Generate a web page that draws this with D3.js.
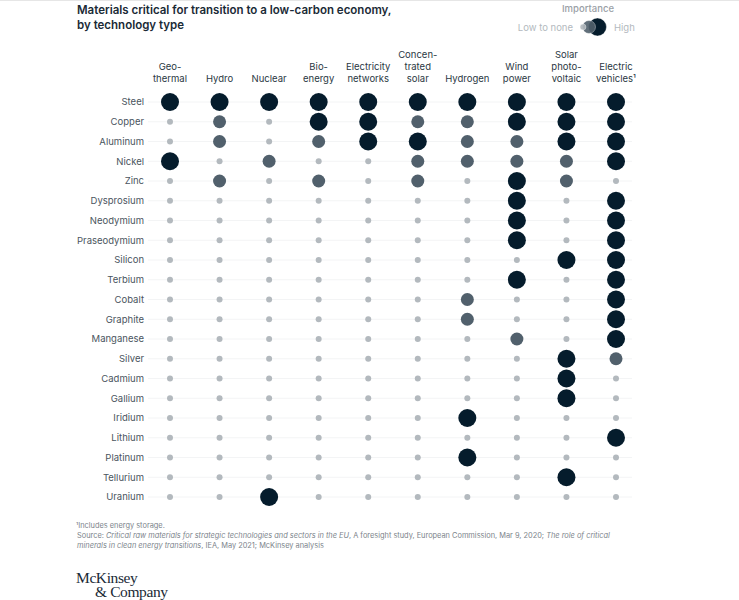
<!DOCTYPE html>
<html>
<head>
<meta charset="utf-8">
<script src="https://cdn.jsdelivr.net/npm/d3@7"></script>
<style>
  html, body { margin: 0; padding: 0; background: #fff; }
  text { font-family: Inter, "Open Sans", sans-serif; }
</style>
</head>
<body>
<div id="chart"></div>
<script>
const technologies = ["Geothermal", "Hydro", "Nuclear", "Bioenergy", "Electricity networks", "Concentrated solar", "Hydrogen", "Wind power", "Solar photovoltaic", "Electric vehicles"];
// header lines as they wrap in the original
const techLabels = [
  ["Geo-", "thermal"], ["Hydro"], ["Nuclear"], ["Bio-", "energy"], ["Electricity", "networks"],
  ["Concen-", "trated", "solar"], ["Hydrogen"], ["Wind", "power"], ["Solar", "photo-", "voltaic"], ["Electric", "vehicles\u00b9"]
];
const materials = ["Steel", "Copper", "Aluminum", "Nickel", "Zinc", "Dysprosium", "Neodymium", "Praseodymium", "Silicon", "Terbium", "Cobalt", "Graphite", "Manganese", "Silver", "Cadmium", "Gallium", "Iridium", "Lithium", "Platinum", "Tellurium", "Uranium"];
// 0 low to none, 1 medium, 2 high; one row per material, one column per technology
const importance = [
  [2, 2, 2, 2, 2, 2, 2, 2, 2, 2],
  [0, 1, 0, 2, 2, 1, 1, 2, 2, 2],
  [0, 1, 0, 1, 2, 2, 1, 1, 2, 2],
  [2, 0, 1, 0, 0, 1, 1, 1, 1, 2],
  [0, 1, 0, 1, 0, 1, 0, 2, 1, 0],
  [0, 0, 0, 0, 0, 0, 0, 2, 0, 2],
  [0, 0, 0, 0, 0, 0, 0, 2, 0, 2],
  [0, 0, 0, 0, 0, 0, 0, 2, 0, 2],
  [0, 0, 0, 0, 0, 0, 0, 0, 2, 2],
  [0, 0, 0, 0, 0, 0, 0, 2, 0, 2],
  [0, 0, 0, 0, 0, 0, 1, 0, 0, 2],
  [0, 0, 0, 0, 0, 0, 1, 0, 0, 2],
  [0, 0, 0, 0, 0, 0, 0, 1, 0, 2],
  [0, 0, 0, 0, 0, 0, 0, 0, 2, 1],
  [0, 0, 0, 0, 0, 0, 0, 0, 2, 0],
  [0, 0, 0, 0, 0, 0, 0, 0, 2, 0],
  [0, 0, 0, 0, 0, 0, 2, 0, 0, 0],
  [0, 0, 0, 0, 0, 0, 0, 0, 0, 2],
  [0, 0, 0, 0, 0, 0, 2, 0, 0, 0],
  [0, 0, 0, 0, 0, 0, 0, 0, 2, 0],
  [0, 0, 2, 0, 0, 0, 0, 0, 0, 0]
];
const levels = [0, 1, 2];

const width = 739, height = 600;
const x = d3.scalePoint().domain(technologies).range([170, 616]);
const y = d3.scalePoint().domain(materials).range([102, 497]);
const radius = d3.scaleOrdinal().domain(levels).range([3, 6.5, 9]);
const color = d3.scaleOrdinal().domain(levels).range(["#b3b9be", "#51606c", "#051c2c"]);

const svg = d3.select("#chart").append("svg")
  .attr("width", width).attr("height", height)
  .style("display", "block");

// faint rule along the top edge
svg.append("line").attr("x1", 0).attr("x2", width).attr("y1", 0.5).attr("y2", 0.5)
  .attr("stroke", "#e6e6e6");

// title
svg.append("text").attr("x", 77).attr("y", 14)
  .attr("font-size", 11.5).attr("font-weight", 600).attr("fill", "#1a2a36")
  .selectAll("tspan")
  .data(["Materials critical for transition to a low-carbon economy,", "by technology type"])
  .join("tspan").attr("x", 77).attr("dy", (d, i) => i ? 14.5 : 0).text(d => d);

// legend
const legend = svg.append("g");
legend.append("text").attr("x", 588).attr("y", 11.5).attr("text-anchor", "middle")
  .attr("font-size", 9.5).attr("font-weight", 500).attr("fill", "#9aa0a6").text("Importance");
legend.append("text").attr("x", 573).attr("y", 30.5).attr("text-anchor", "end")
  .attr("font-size", 9.5).attr("fill", "#b3b9be").text("Low to none");
legend.append("text").attr("x", 614).attr("y", 30.5)
  .attr("font-size", 9.5).attr("fill", "#b3b9be").text("High");
legend.selectAll("circle").data([2, 1, 0]).join("circle")
  .attr("cx", d => [583, 589, 597.5][d])
  .attr("cy", 27)
  .attr("r", d => radius(d))
  .attr("fill", d => color(d))
  .attr("stroke", "#fff").attr("stroke-width", 0.4)
  .attr("opacity", d => d === 2 ? 1 : 0.9)
  .sort((a, b) => b - a);

// column headers, bottom aligned
svg.append("g").selectAll("text").data(technologies).join("text")
  .attr("text-anchor", "middle").attr("font-size", 9.5).attr("fill", "#2a3843")
  .each(function(d, i) {
    const lines = techLabels[i];
    d3.select(this).selectAll("tspan").data(lines).join("tspan")
      .attr("x", x(d))
      .attr("y", (l, j) => 82 - (lines.length - 1 - j) * 12)
      .text(l => l);
  });

// rows
const rows = svg.append("g").selectAll("g").data(materials).join("g")
  .attr("transform", d => `translate(0,${y(d)})`);

rows.append("line")
  .attr("x1", 148).attr("x2", 632)
  .attr("stroke", "#f3f4f5").attr("stroke-width", 1);

rows.append("text")
  .attr("x", 144).attr("dy", "0.35em").attr("text-anchor", "end")
  .attr("font-size", 9.5).attr("fill", "#4a5560")
  .text(d => d);

rows.selectAll("circle")
  .data((d, i) => importance[i].map((v, j) => ({tech: technologies[j], v})))
  .join("circle")
  .attr("cx", d => x(d.tech))
  .attr("r", d => radius(d.v))
  .attr("fill", d => color(d.v));

// footnotes
const foot = svg.append("g").attr("font-size", 7.4).attr("fill", "#7c848b");
foot.append("text").attr("x", 76).attr("y", 528).text("\u00b9Includes energy storage.");
const source = foot.append("text").attr("x", 77).attr("y", 538);
source.append("tspan").text("Source: ");
source.append("tspan").attr("font-style", "italic").text("Critical raw materials for strategic technologies and sectors in the EU");
source.append("tspan").text(", A foresight study, European Commission, Mar 9, 2020; ");
source.append("tspan").attr("font-style", "italic").text("The role of critical");
const source2 = foot.append("text").attr("x", 77).attr("y", 548);
source2.append("tspan").attr("font-style", "italic").text("minerals in clean energy transitions");
source2.append("tspan").text(", IEA, May 2021; McKinsey analysis");

// logo
const logo = svg.append("g").attr("fill", "#1a2a36").attr("font-size", 15.5);
logo.append("text").attr("x", 76).attr("y", 583).style("font-family", "'Liberation Serif', serif").attr("letter-spacing", -0.4).text("McKinsey");
logo.append("text").attr("x", 95).attr("y", 597).style("font-family", "'Liberation Serif', serif").attr("letter-spacing", -0.4).text("& Company");
</script>
</body>
</html>
